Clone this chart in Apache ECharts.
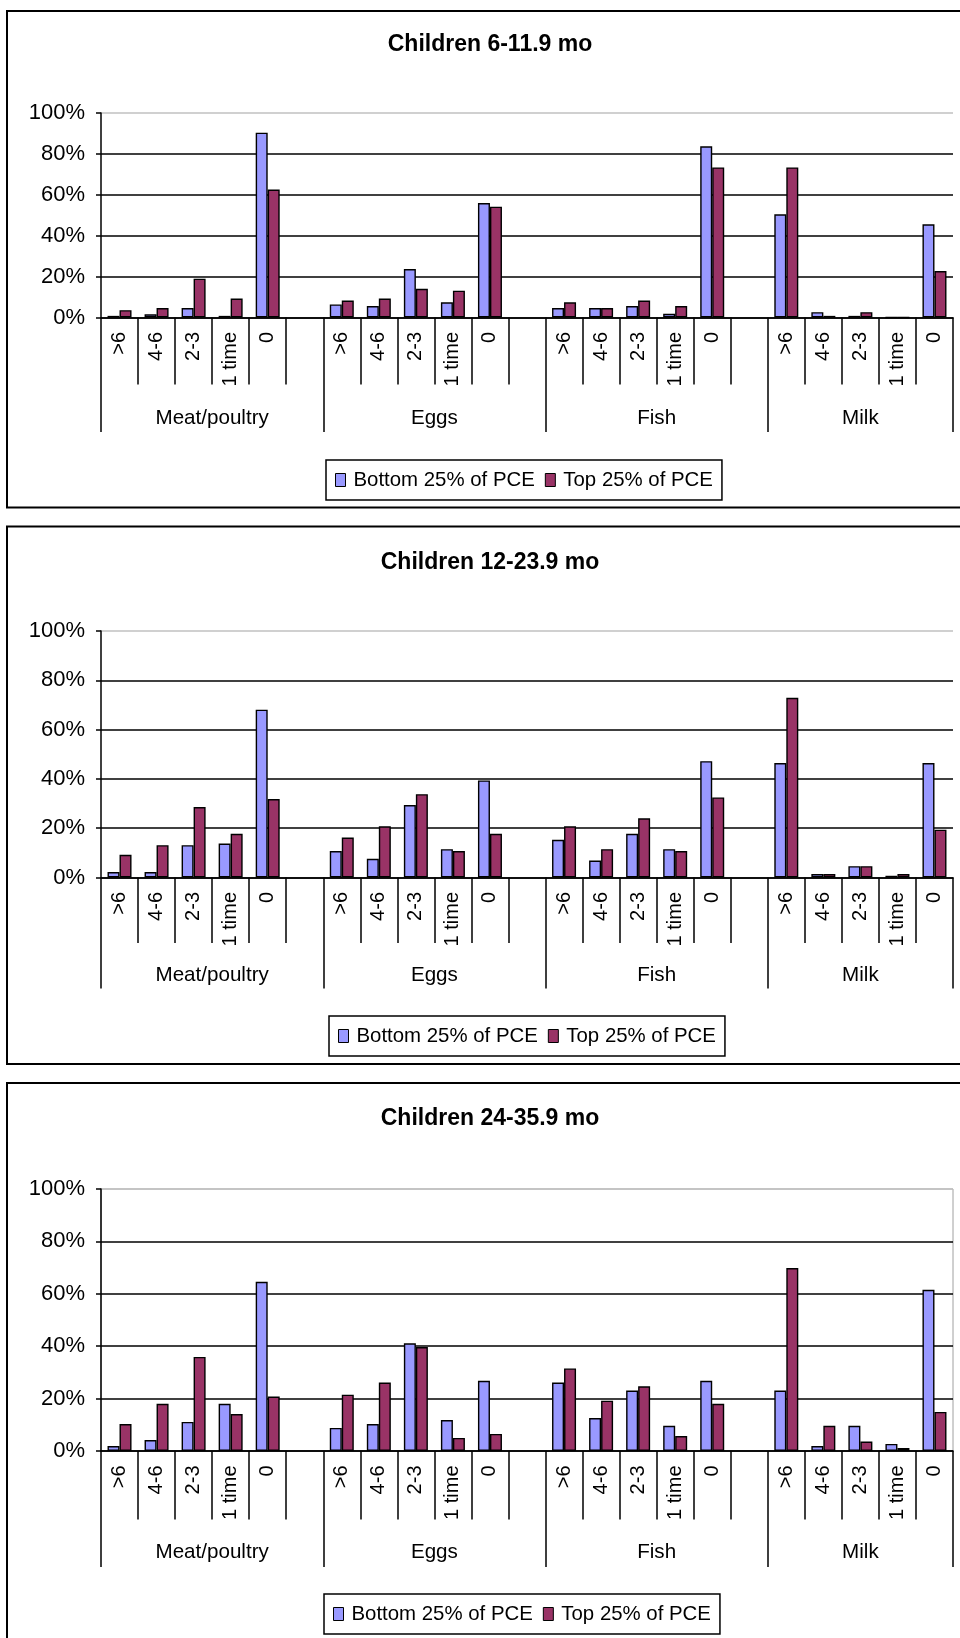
<!DOCTYPE html>
<html><head><meta charset="utf-8">
<script src="https://cdn.jsdelivr.net/npm/echarts@6/dist/echarts.min.js"></script>
<style>html,body{margin:0;padding:0;background:#fff}#c{width:960px;height:1638px}</style>
</head><body><div id="c"></div>
<script>
// ---- data ----
const categories = ['>6', '4-6', '2-3', '1 time', '0'];
const groups = ['Meat/poultry', 'Eggs', 'Fish', 'Milk'];
const panelTitles = ['Children 6-11.9 mo', 'Children 12-23.9 mo', 'Children 24-35.9 mo'];
const seriesNames = ['Bottom 25% of PCE', 'Top 25% of PCE'];
const yTicks = [0, 20, 40, 60, 80, 100];

// values in %, order: Meat/poultry(>6,4-6,2-3,1 time,0), Eggs, Fish, Milk
const bottom_6_11  = [0.8, 1.6, 4.6, 0.8, 90.4,  6.4, 5.6, 23.7, 7.4, 56.0,  4.6, 4.6, 5.6, 1.8, 83.7,  50.5, 2.6, 0.8, 0, 45.6];
const top_6_11     = [3.6, 4.6, 19.0, 9.3, 62.6,  8.3, 9.3, 14.0, 13.1, 54.2,  7.4, 4.6, 8.3, 5.6, 73.4,  73.4, 0.8, 2.6, 0, 22.7];
const bottom_12_23 = [2.2, 2.2, 13.1, 13.8, 68.1,  10.7, 7.6, 29.4, 11.5, 39.4,  15.3, 6.9, 17.7, 11.5, 47.2,  46.4, 1.4, 4.6, 0.7, 46.4];
const top_12_23    = [9.2, 13.1, 28.6, 17.7, 31.8,  16.2, 20.8, 33.8, 10.7, 17.7,  20.8, 11.5, 24.0, 10.7, 32.5,  72.9, 1.4, 4.6, 1.4, 19.4];
const bottom_24_35 = [1.9, 4.2, 11.1, 18.0, 64.6,  8.8, 10.3, 41.1, 11.8, 26.8,  26.1, 12.6, 23.1, 9.6, 26.8,  23.1, 1.9, 9.6, 2.7, 61.5];
const top_24_35    = [10.3, 18.0, 35.9, 14.1, 20.8,  21.5, 26.1, 39.7, 5.0, 6.5,  31.5, 19.2, 24.7, 5.7, 18.0,  69.8, 9.6, 3.6, 1.1, 14.9];

const panelData = [[bottom_6_11, top_6_11], [bottom_12_23, top_12_23], [bottom_24_35, top_24_35]];

// ---- layout ----
const FONT = "'Liberation Sans', Arial, sans-serif";
const colors = ['#9999FF', '#993366'];
const layout = [
  { top: 113, axisY: 317.5, shortTick: 67, longTick: 114.5, groupMargin: 90, titleY: 41, legendTop: 460, legendLeft: 326, box: [11, 496.5], frame: false },
  { top: 631, axisY: 877.5, shortTick: 65.5, longTick: 111, groupMargin: 87.5, titleY: 559, legendTop: 1016, legendLeft: 329, box: [526.5, 537.5], frame: false },
  { top: 1189, axisY: 1451, shortTick: 68.5, longTick: 116, groupMargin: 91, titleY: 1115, legendTop: 1594, legendLeft: 324, box: [1083, 600], frame: true }
];
const H = 1638;

// slot axis: 5 categories per group, blank slot between groups
const slotCats = [];
groups.forEach((g, gi) => {
  categories.forEach(c => slotCats.push(c));
  if (gi < groups.length - 1) slotCats.push('');
});
function toSlots(vals) {
  const out = [];
  groups.forEach((g, gi) => {
    for (let k = 0; k < categories.length; k++) out.push(vals[gi * categories.length + k]);
    if (gi < groups.length - 1) out.push('-');
  });
  return out;
}
// group-label axis: half-slot points (boundaryGap false)
const nHalf = slotCats.length * 2;
const groupCats = new Array(nHalf + 1).fill('');
const groupBounds = [0];
let pos = 0;
groups.forEach((g, gi) => {
  const span = (categories.length + (gi < groups.length - 1 ? 1 : 0)) * 2;
  groupCats[pos + span / 2] = g;
  pos += span;
  groupBounds.push(pos);
});

const option = {
  animation: false,
  backgroundColor: '#fff',
  textStyle: { fontFamily: FONT },
  title: [], legend: [], grid: [], xAxis: [], yAxis: [], series: [],
  graphic: []
};

layout.forEach((L, i) => {
  option.graphic.push({
    type: 'rect', silent: true, z: 0,
    shape: { x: 7, y: L.box[0], width: 980, height: L.box[1] },
    style: { fill: 'transparent', stroke: '#000', lineWidth: 2 }
  });
  option.title.push({
    text: panelTitles[i], left: 485, top: L.titleY - 13, textAlign: 'center',
    textStyle: { fontFamily: FONT, fontSize: 23, fontWeight: 'bold', color: '#000' }
  });
  option.legend.push({
    data: seriesNames, left: L.legendLeft, top: L.legendTop,
    orient: 'horizontal', icon: 'rect', itemWidth: 10, itemHeight: 13, itemGap: 10,
    padding: [10, 9, 10, 9], backgroundColor: '#fff', borderColor: '#000', borderWidth: 1.5,
    selectedMode: false,
    itemStyle: { borderColor: '#000', borderWidth: 1 },
    textStyle: { fontFamily: FONT, fontSize: 20.4, color: '#000', padding: [0, 0, 0, 3] }
  });
  option.grid.push({
    left: 101, right: 7, top: L.top, bottom: H - L.axisY,
    show: L.frame, borderColor: '#a0a0a0', borderWidth: 1, backgroundColor: 'transparent'
  });
  option.yAxis.push({
    gridIndex: i, type: 'value', min: 0, max: 100, interval: 20,
    axisLine: { show: true, lineStyle: { color: '#000', width: 1.5 } },
    axisTick: { show: true, length: 5, lineStyle: { color: '#000', width: 1.5 } },
    axisLabel: { formatter: v => yTicks.includes(v) ? v + '%' : '', margin: 16, fontFamily: FONT, fontSize: 22, color: '#000' },
    splitLine: { show: true, lineStyle: { color: ['#000', '#000', '#000', '#000', '#000', '#c0c0c0'], width: 1.6 } }
  });
  option.xAxis.push({
    gridIndex: i, type: 'category', data: slotCats, position: 'bottom',
    axisLine: { show: true, lineStyle: { color: '#000', width: 1.6 } },
    axisTick: { show: true, interval: 0, length: L.shortTick, lineStyle: { color: '#000', width: 1.5 } },
    axisLabel: { interval: 0, rotate: 90, margin: 14.5, fontFamily: FONT, fontSize: 20, color: '#000' },
    splitLine: { show: false }
  });
  option.xAxis.push({
    gridIndex: i, type: 'category', data: groupCats, boundaryGap: false, position: 'bottom',
    axisLine: { show: false },
    axisTick: { show: true, interval: (idx) => groupBounds.includes(idx), length: L.longTick, lineStyle: { color: '#000', width: 1.5 } },
    axisLabel: { interval: 0, margin: L.groupMargin, fontFamily: FONT, fontSize: 20.6, color: '#000' },
    splitLine: { show: false }
  });
  panelData[i].forEach((vals, s) => {
    option.series.push({
      name: seriesNames[s], type: 'bar', xAxisIndex: i * 2, yAxisIndex: i,
      data: toSlots(vals), barWidth: 12, barGap: '0%',
      itemStyle: { color: colors[s], borderColor: '#000', borderWidth: 1.4 },
      emphasis: { disabled: true }
    });
  });
});

const chart = echarts.init(document.getElementById('c'), null, { renderer: 'canvas' });
chart.setOption(option);
</script>
</body></html>
